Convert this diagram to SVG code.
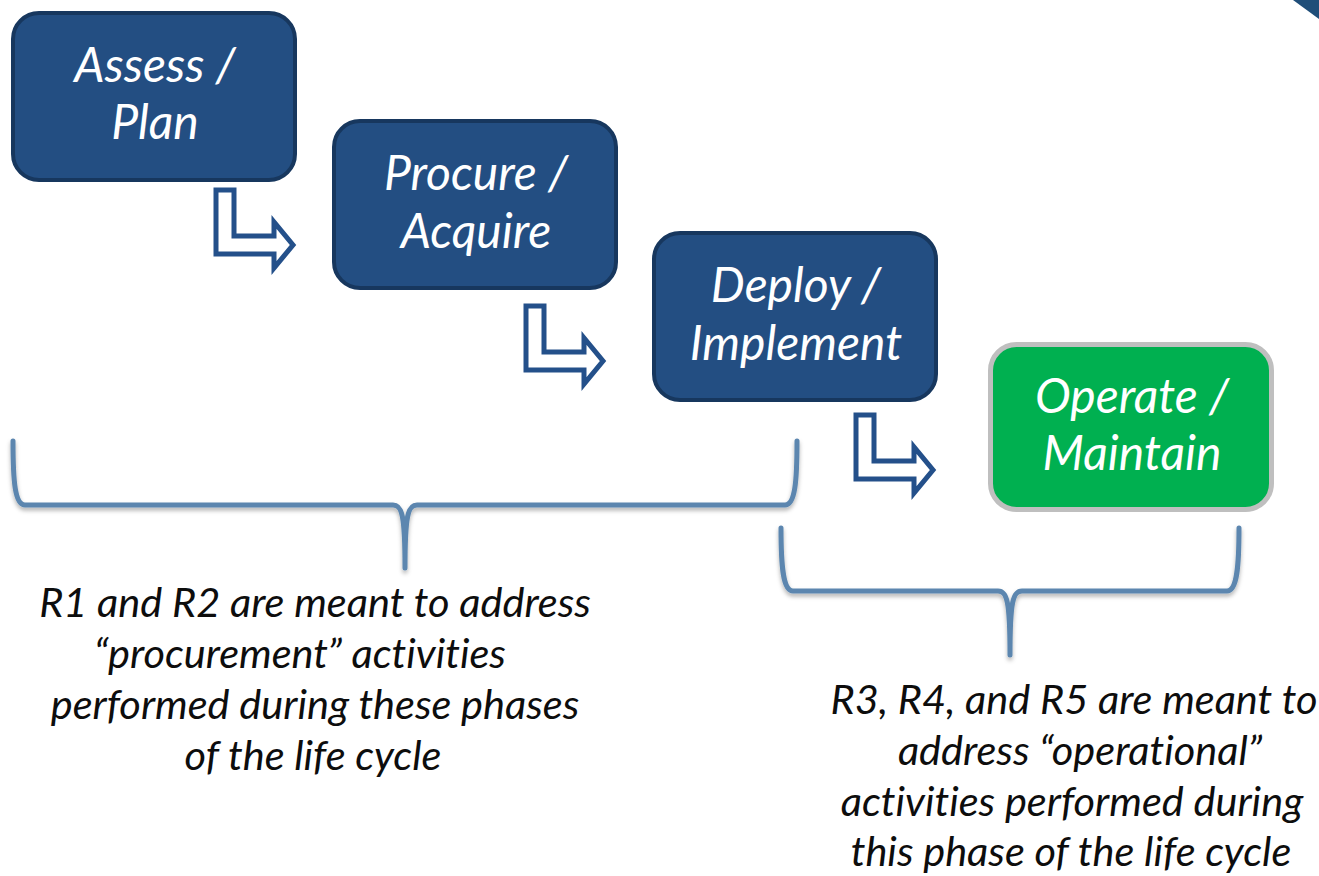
<svg xmlns="http://www.w3.org/2000/svg" width="1319" height="876" viewBox="0 0 1319 876">
<style>
.box{fill:#234E82;stroke:#17375E;stroke-width:4}
.green{fill:#00B050;stroke:#BFBFBF;stroke-width:5}
text{font-variant-ligatures:none;font-feature-settings:"liga" 0,"dlig" 0}
.bt{font-family:Lato,"Open Sans","Liberation Sans",sans-serif;font-style:italic;font-size:48px;fill:#FFFFFF;text-anchor:middle}
.lt{font-family:Lato,"Open Sans","Liberation Sans",sans-serif;font-style:italic;font-size:41.5px;fill:#0D0D0D;text-anchor:middle}
.arrow{fill:#FFFFFF;stroke:#24508A;stroke-width:5;stroke-miterlimit:10}
.brace{fill:none;stroke:#5B86AF;stroke-width:5;stroke-linecap:round;stroke-linejoin:round}
</style>
<defs>
<path id="larrow" d="M3,3 H21 V49 H61 V35 L80,58 L61,81 V67 H3 Z"/>
<filter id="sh" x="-10%" y="-20%" width="120%" height="160%">
<feDropShadow dx="0" dy="3" stdDeviation="2" flood-color="#000" flood-opacity="0.3"/>
</filter>
</defs>
<polygon points="1293,0 1319,0 1319,19" fill="#1F4E79"/>
<g id="connectors">
<use href="#larrow" class="arrow" transform="translate(213,187)"/>
<use href="#larrow" class="arrow" transform="translate(523,303)"/>
<use href="#larrow" class="arrow" transform="translate(853,412)"/>
<path class="brace" filter="url(#sh)" d="M13,441 C13,482 15,505 25,505 H393 C402,505 405,515 405,568 C405,515 408,505 417,505 H785 C795,505 797,482 797,441"/>
<path class="brace" filter="url(#sh)" d="M781,528 C781,567 783,591 793,591 H998 C1007,591 1010,601 1010,655 C1010,601 1013,591 1022,591 H1227 C1237,591 1239,567 1239,528"/>
</g>
<g id="assess">
<rect class="box" x="13" y="13" width="282" height="167" rx="26"/>
<text class="bt" x="155" y="82">Assess /</text>
<text class="bt" x="155" y="139">Plan</text>
</g>
<g id="procure">
<rect class="box" x="334" y="121" width="282" height="167" rx="26"/>
<text class="bt" x="476" y="190">Procure /</text>
<text class="bt" x="476" y="248">Acquire</text>
</g>
<g id="deploy">
<rect class="box" x="654" y="233" width="282" height="167" rx="26"/>
<text class="bt" x="796" y="302">Deploy /</text>
<text class="bt" x="796" y="360">Implement</text>
</g>
<g id="operate">
<rect class="green" x="990.5" y="344.5" width="281" height="165" rx="26"/>
<text class="bt" x="1132" y="413">Operate /</text>
<text class="bt" x="1132" y="470">Maintain</text>
</g>
<g id="label-procurement">
<text class="lt" x="315" y="617">R1 and R2 are meant to address</text>
<text class="lt" x="300" y="668">“procurement” activities</text>
<text class="lt" x="315" y="719">performed during these phases</text>
<text class="lt" x="313" y="770">of the life cycle</text>
</g>
<g id="label-operational">
<text class="lt" x="1074" y="714">R3, R4, and R5 are meant to</text>
<text class="lt" x="1080" y="765">address “operational”</text>
<text class="lt" x="1072" y="816">activities performed during</text>
<text class="lt" x="1071" y="866">this phase of the life cycle</text>
</g>
</svg>
